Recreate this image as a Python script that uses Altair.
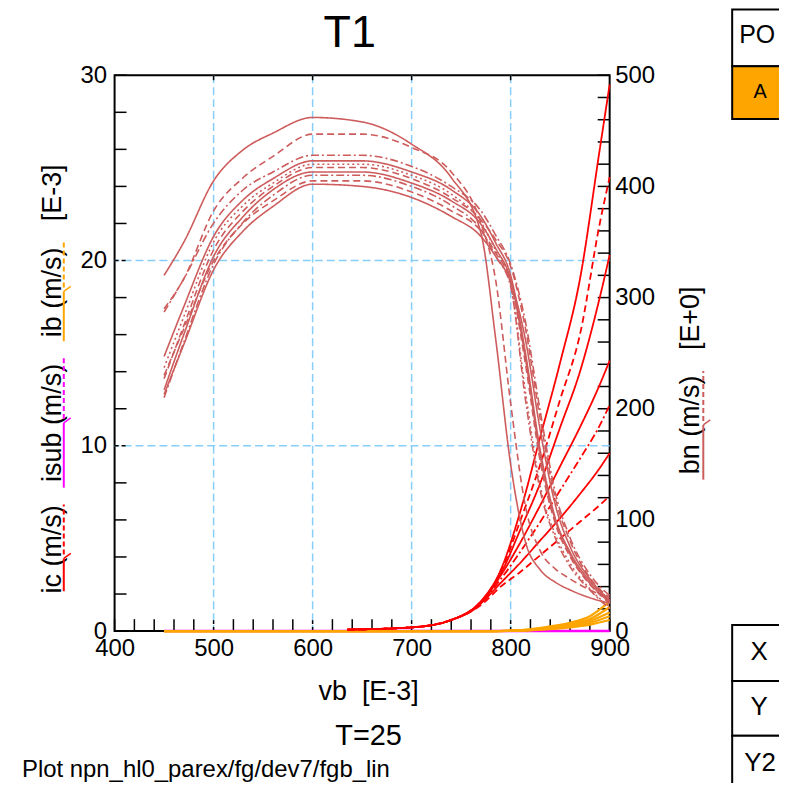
import altair as alt
import pandas as pd

W, H = 497, 558

# ---------------- data ----------------
# bn (right axis, E+0)
VB_BN = [450, 470, 500, 530, 560, 600, 650, 700, 740, 770, 785, 800, 815, 830, 845, 860, 880, 900]
BN_1 = [320, 350, 405, 433, 448, 462, 458, 438, 408, 358, 262, 150, 80, 55, 44, 37, 30, 25]
BN_2 = [290, 317, 378, 408, 427, 447, 447, 435, 413, 367, 315, 205, 112, 72, 56, 47, 37, 30]
BN_3 = [287, 317, 367, 397, 413, 428, 428, 418, 400, 378, 356, 330, 278, 197, 125, 84, 51, 32]
BN_4 = [247, 292, 355, 388, 407, 423, 423, 413, 397, 373, 349, 320, 250, 162, 102, 71, 45, 27]
BN_5 = [237, 283, 350, 383, 403, 420, 420, 410, 393, 368, 342, 312, 215, 130, 87, 61, 38, 22]
BN_6 = [227, 275, 343, 378, 400, 417, 417, 407, 390, 370, 352, 328, 272, 190, 120, 81, 48, 30]
BN_7 = [217, 267, 337, 373, 397, 413, 413, 403, 387, 366, 344, 316, 245, 157, 100, 69, 43, 26]
BN_8 = [210, 260, 330, 368, 392, 410, 410, 400, 383, 361, 337, 310, 208, 126, 84, 58, 37, 20]
BN_9 = [230, 272, 333, 367, 387, 405, 405, 395, 378, 360, 340, 314, 240, 152, 97, 67, 42, 25]
BN_10 = [213, 258, 325, 360, 382, 402, 400, 390, 373, 355, 337, 314, 262, 180, 114, 76, 47, 28]
BN_DASH = ["solid", "dash", "dashdot", "solid", "dot", "dash", "solid", "dashdot", "dash", "solid"]

# ic (left axis, E-3)
VB_IC = [635, 700, 740, 770, 790, 810, 830, 850, 870, 890, 900]
IC_1 = [0.08, 0.2, 0.6, 1.6, 3.3, 6.5, 10.5, 14.5, 19.0, 26.0, 29.5]
IC_2 = [0.08, 0.2, 0.6, 1.6, 3.2, 6.0, 9.0, 12.5, 16.0, 22.0, 24.5]
IC_3 = [0.08, 0.2, 0.6, 1.6, 3.1, 5.5, 8.0, 11.0, 14.0, 18.0, 20.3]
IC_4 = [0.08, 0.2, 0.6, 1.5, 3.0, 4.8, 6.8, 8.9, 11.0, 13.3, 14.6]
IC_5 = [0.08, 0.2, 0.6, 1.5, 2.8, 4.3, 5.9, 7.6, 9.3, 11.1, 12.2]
IC_6 = [0.08, 0.2, 0.6, 1.5, 2.6, 3.7, 4.9, 6.1, 7.4, 8.8, 9.6]
IC_7 = [0.08, 0.2, 0.6, 1.4, 2.4, 3.2, 4.1, 5.0, 5.9, 6.8, 7.3]
IC_DASH = ["solid", "dash", "solid", "solid", "dashdot", "solid", "dash"]

# ib (left axis, E-3)
VB_IB = [450, 780, 800, 820, 840, 860, 880, 900]
IB_1 = [0, 0, 0.03, 0.10, 0.25, 0.45, 0.80, 1.60]
IB_2 = [0, 0, 0.02, 0.08, 0.20, 0.38, 0.65, 1.30]
IB_3 = [0, 0, 0.02, 0.07, 0.17, 0.32, 0.55, 1.00]
IB_4 = [0, 0, 0.01, 0.05, 0.13, 0.25, 0.45, 0.80]
IB_5 = [0, 0, 0.01, 0.04, 0.10, 0.20, 0.35, 0.60]

# isub (left axis, E-3)
VB_ISUB = [450, 900]
ISUB_1 = [0.0, 0.0]

# axes
X_LABELS = [400, 500, 600, 700, 800, 900]
Y_LABELS = [0, 10, 20, 30]
Y2_LABELS = [0, 100, 200, 300, 400, 500]
GRID_X = [500, 600, 700, 800]
GRID_Y = [10, 20]
X_MINOR = list(range(400, 901, 20))
Y_MINOR = list(range(0, 31, 2))
Y2_MINOR = list(range(0, 501, 20))

FONT = "Liberation Sans"
RED, MAG, ORA, BRN = "#FF0000", "#FF00FF", "#FFA500", "#CD5C5C"
GRID_C = "#87CEFA"
NB = "\u00a0"


def long(xs, curves, dashes, name):
    rows = []
    for i, (c, d) in enumerate(zip(curves, dashes)):
        for x, y in zip(xs, c):
            rows.append({"vb": x, "y": y, "curve": f"{name}{i}", "dash": d})
    return pd.DataFrame(rows)


bn_df = long(VB_BN, [BN_1, BN_2, BN_3, BN_4, BN_5, BN_6, BN_7, BN_8, BN_9, BN_10], BN_DASH, "bn")
ic_df = long(VB_IC, [IC_1, IC_2, IC_3, IC_4, IC_5, IC_6, IC_7], IC_DASH, "ic")
ib_df = long(VB_IB, [IB_1, IB_2, IB_3, IB_4, IB_5], ["solid"] * 5, "ib")
isub_df = long(VB_ISUB, [ISUB_1], ["solid"], "isub")

XS = alt.Scale(domain=[400, 900], nice=False, zero=False)
YL = alt.Scale(domain=[0, 30], nice=False, zero=False)
YR = alt.Scale(domain=[0, 500], nice=False, zero=False)
X_AXIS = alt.Axis(values=X_LABELS, domain=False, ticks=False, grid=False, title=None,
                  labelFontSize=24, labelFont=FONT, labelColor="black", labelPadding=6,
                  labelFlush=False, labelOverlap=False)
YL_AXIS = alt.Axis(values=Y_LABELS, orient="left", domain=False, ticks=False, grid=False, title=None,
                   labelFontSize=24, labelFont=FONT, labelColor="black", labelPadding=8,
                   labelFlush=False, labelOverlap=False)
YR_AXIS = alt.Axis(values=Y2_LABELS, orient="right", domain=False, ticks=False, grid=False, title=None,
                   labelFontSize=24, labelFont=FONT, labelColor="black", labelPadding=5,
                   labelFlush=False, labelOverlap=False)
DASH = alt.StrokeDash("dash:N", legend=None,
                      scale=alt.Scale(domain=["solid", "dash", "dashdot", "dot"],
                                      range=[[1, 0], [7, 4], [8, 3, 2, 3], [2, 3]]))

X = alt.X("vb:Q", scale=XS, axis=X_AXIS)

# grid
gx = alt.Chart(pd.DataFrame({"vb": GRID_X})).mark_rule(color=GRID_C, strokeWidth=1.5, strokeDash=[8, 4]).encode(x=X)
gy = alt.Chart(pd.DataFrame({"y": GRID_Y})).mark_rule(color=GRID_C, strokeWidth=1.5, strokeDash=[8, 4]).encode(
    y=alt.Y("y:Q", scale=YL, axis=None))

# ticks (inward)
xt = alt.Chart(pd.DataFrame({"vb": [v for v in X_MINOR if v not in GRID_X]})).mark_rule(color="black", strokeWidth=1.5).encode(
    x=X, y=alt.value(H), y2=alt.value(H - 12))
xt_major = alt.Chart(pd.DataFrame({"vb": GRID_X})).mark_rule(color="black", strokeWidth=1.5, strokeDash=[4, 3]).encode(
    x=X, y=alt.value(H), y2=alt.value(H - 12))
xt_top = alt.Chart(pd.DataFrame({"vb": GRID_X})).mark_rule(color="black", strokeWidth=1.5).encode(
    x=X, y=alt.value(0), y2=alt.value(5))
yt = alt.Chart(pd.DataFrame({"y": [v for v in Y_MINOR if v not in GRID_Y]})).mark_rule(color="black", strokeWidth=1.5).encode(
    y=alt.Y("y:Q", scale=YL, axis=YL_AXIS), x=alt.value(0), x2=alt.value(12))
yt_major = alt.Chart(pd.DataFrame({"y": GRID_Y})).mark_rule(color="black", strokeWidth=1.5, strokeDash=[4, 3]).encode(
    y=alt.Y("y:Q", scale=YL, axis=None), x=alt.value(0), x2=alt.value(12))
y2t = alt.Chart(pd.DataFrame({"y": Y2_MINOR})).mark_rule(color="black", strokeWidth=1.5).encode(
    y=alt.Y("y:Q", scale=YR, axis=YR_AXIS), x=alt.value(W), x2=alt.value(W - 12))

# data lines
isub_l = alt.Chart(isub_df).mark_line(color=MAG, strokeWidth=2.5).encode(
    x=X, y=alt.Y("y:Q", scale=YL, axis=None), detail="curve:N")
ib_l = alt.Chart(ib_df).mark_line(color=ORA, strokeWidth=2.2, interpolate="monotone").encode(
    x=X, y=alt.Y("y:Q", scale=YL, axis=None), detail="curve:N")
ic_l = alt.Chart(ic_df).mark_line(color=RED, strokeWidth=1.8, interpolate="monotone").encode(
    x=X, y=alt.Y("y:Q", scale=YL, axis=None), detail="curve:N", strokeDash=DASH)
bn_l = alt.Chart(bn_df).mark_line(color=BRN, strokeWidth=1.6, interpolate="monotone").encode(
    x=X, y=alt.Y("y:Q", scale=YR, axis=None), detail="curve:N", strokeDash=DASH)

ONE = pd.DataFrame({"k": [0]})


def txt(s, x, y, size, align="center", angle=0, baseline="middle"):
    kw = dict(fontSize=size, font=FONT, color="black", align=align, baseline=baseline)
    if angle:
        kw["angle"] = angle
    return alt.Chart(pd.DataFrame({"t": [s]})).mark_text(**kw).encode(
        x=alt.value(x), y=alt.value(y), text="t:N")


def seg(x1, y1, x2, y2, color, dash=None, w=2):
    kw = dict(color=color, strokeWidth=w)
    if dash:
        kw["strokeDash"] = dash
    return alt.Chart(ONE).mark_rule(**kw).encode(
        x=alt.value(x1), y=alt.value(y1), x2=alt.value(x2), y2=alt.value(y2))


def box(x1, y1, x2, y2, fill):
    return alt.Chart(ONE).mark_rect(fill=fill, stroke="black", strokeWidth=2).encode(
        x=alt.value(x1), y=alt.value(y1), x2=alt.value(x2), y2=alt.value(y2))


deco = [
    txt("T1", 236, -42, 45),
    txt(f"vb{NB}{NB}[E-3]", 255, 619, 27),
    txt("T=25", 255, 663, 29),
    txt("Plot npn_hl0_parex/fg/dev7/fgb_lin", -93, 697, 24, align="left"),
    # left title pieces
    txt("ic (m/s)", -54, 476, 27, angle=270, baseline="alphabetic"),
    txt("isub (m/s)", -54, 349, 27, angle=270, baseline="alphabetic"),
    txt("ib (m/s)", -54, 218, 27, angle=270, baseline="alphabetic"),
    txt("[E-3]", -54, 118, 27, angle=270, baseline="alphabetic"),
    seg(-51, 518, -51, 485, RED), seg(-51, 485, -44, 480, RED, w=1.5), seg(-51, 481, -51, 431, RED, [5, 3]),
    seg(-51, 414, -51, 349, MAG), seg(-51, 349, -44, 344, MAG, w=1.5), seg(-51, 345, -51, 282, MAG, [5, 3]),
    seg(-51, 267, -51, 217, ORA), seg(-51, 217, -44, 212, ORA, w=1.5), seg(-51, 213, -51, 167, ORA, [5, 3]),
    # right title
    txt("bn (m/s)", 587, 351, 27, angle=270, baseline="alphabetic"),
    txt("[E+0]", 587, 244, 27, angle=270, baseline="alphabetic"),
    seg(591, 406, 591, 351, BRN), seg(591, 351, 598, 346, BRN, w=1.5), seg(591, 347, 591, 297, BRN, [5, 3]),
    # side panel
    box(620, -66, 700, -9, "white"),
    box(620, -9, 700, 44, ORA),
    txt("PO", 627, -40, 25, align="left"),
    txt("A", 648, 17, 20),
    box(620, 552, 700, 608, "white"),
    box(620, 608, 700, 663, "white"),
    box(620, 663, 700, 740, "white"),
    txt("X", 647, 579, 26),
    txt("Y", 647, 634, 26),
    txt("Y2", 648, 690, 26),
]

chart = alt.layer(
    gx, gy, xt, xt_major, xt_top, yt, yt_major, y2t,
    isub_l, ib_l, ic_l, bn_l,
    *deco
).resolve_scale(y="independent").properties(
    width=W, height=H,
    padding={"left": 107, "top": 66, "right": 170, "bottom": 151},
    autosize=alt.AutoSizeParams(type="none"),
    background="white",
).configure_view(stroke="black", strokeWidth=2)

chart.save("out.html", embed_options={"renderer": "svg", "actions": False})
